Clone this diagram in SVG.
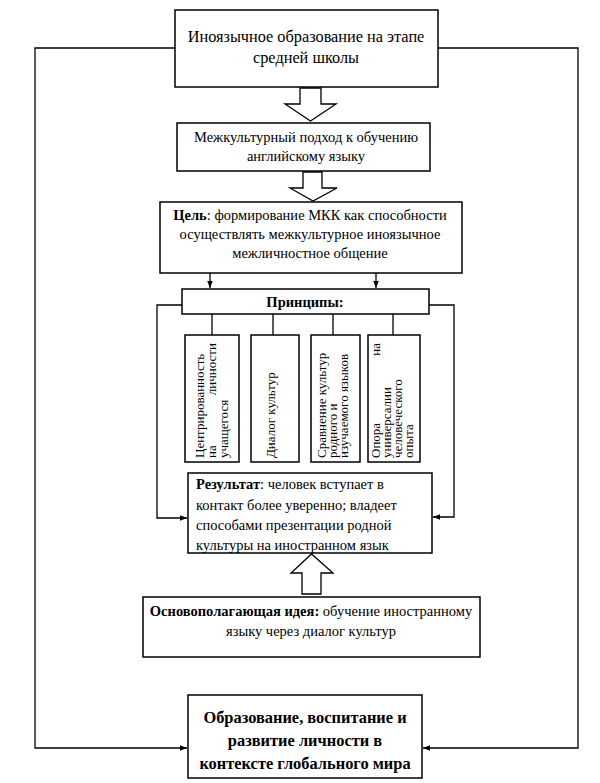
<svg xmlns="http://www.w3.org/2000/svg" width="600" height="783" viewBox="0 0 600 783" font-family="'Liberation Serif', 'Times New Roman', 'DejaVu Serif', serif">
<style>
.box{fill:#fff;stroke:#000;stroke-width:1.5}
.ln{fill:none;stroke:#000;stroke-width:1.3}
.ha{fill:#fff;stroke:#000;stroke-width:1.3}
text{font-family:'Liberation Serif','Times New Roman','DejaVu Serif',serif;fill:#000}
.t{font-size:14.5px}
.c{text-anchor:middle}
.b{font-weight:bold}
.v{font-size:13px}
</style>
<defs>
<marker id="ar" viewBox="0 0 10 10" refX="10" refY="5" markerWidth="7" markerHeight="7" orient="auto" markerUnits="userSpaceOnUse">
<path d="M0,1 L10,5 L0,9 Z" fill="#000"/>
</marker>
</defs>
<rect width="600" height="783" fill="#fff"/>
<g id="connectors">
<polyline class="ln" points="175,48 35,48 35,748 187,748" marker-end="url(#ar)"/>
<polyline class="ln" points="438,48 578,48 578,748 423,748" marker-end="url(#ar)"/>
<line class="ln" x1="210" y1="273" x2="210" y2="288" marker-end="url(#ar)"/>
<line class="ln" x1="376" y1="273" x2="376" y2="288" marker-end="url(#ar)"/>
<polyline class="ln" points="182,305 157,305 157,518 187,518" marker-end="url(#ar)"/>
<polyline class="ln" points="429,305 454,305 454,517 433,517" marker-end="url(#ar)"/>
<line class="ln" x1="212" y1="314" x2="212" y2="335"/>
<line class="ln" x1="273" y1="314" x2="273" y2="335"/>
<line class="ln" x1="333" y1="314" x2="333" y2="335"/>
<line class="ln" x1="393" y1="314" x2="393" y2="335"/>
<polygon class="ha" points="300,88 321,88 321,104 336,104 310.5,121 285,104 300,104"/>
<polygon class="ha" points="303,172 322,172 322,188 337,188 313,201 290,188 303,188"/>
<polygon class="ha" points="302,594 321,594 321,573 333,573 311.5,554 291,573 302,573"/>
</g>
<g id="n1">
<rect class="box" x="175" y="10" width="263" height="77"/>
<text class="t c" x="306" y="42" style="font-size:16.3px">Иноязычное образование на этапе</text>
<text class="t c" x="306" y="63" style="font-size:16.3px">средней школы</text>
</g>
<g id="n2">
<rect class="box" x="177" y="123" width="253" height="48"/>
<text class="t c" x="306" y="142">Межкультурный подход к обучению</text>
<text class="t c" x="306" y="161">английскому языку</text>
</g>
<g id="n3">
<rect class="box" x="160" y="202" width="302" height="71"/>
<text class="t c" x="310" y="220"><tspan class="b">Цель</tspan>: формирование МКК как способности</text>
<text class="t c" x="310" y="239">осуществлять межкультурное иноязычное</text>
<text class="t c" x="310" y="258">межличностное общение</text>
</g>
<g id="n4">
<rect class="box" x="182" y="289" width="247" height="25"/>
<text class="t c b" x="305" y="307">Принципы:</text>
</g>
<g id="p1">
<rect class="box" x="185" y="335" width="54" height="127"/>
<text class="v" transform="translate(204,458) rotate(-90)">Центрированность</text>
<text class="v" transform="translate(216,458) rotate(-90)">на</text>
<text class="v" transform="translate(216,343) rotate(-90)" text-anchor="end">личности</text>
<text class="v" transform="translate(228,458) rotate(-90)">учащегося</text>
</g>
<g id="p2">
<rect class="box" x="251" y="335" width="48" height="127"/>
<text class="v" transform="translate(275,458) rotate(-90)">Диалог культур</text>
</g>
<g id="p3">
<rect class="box" x="311" y="335" width="49" height="127"/>
<text class="v" transform="translate(326,458) rotate(-90)">Сравнение культур</text>
<text class="v" transform="translate(337,458) rotate(-90)">родного и</text>
<text class="v" transform="translate(348,458) rotate(-90)">изучаемого языков</text>
</g>
<g id="p4">
<rect class="box" x="368" y="335" width="52" height="127"/>
<text class="v" transform="translate(380,458) rotate(-90)">Опора</text>
<text class="v" transform="translate(380,343) rotate(-90)" text-anchor="end">на</text>
<text class="v" transform="translate(391,458) rotate(-90)">универсалии</text>
<text class="v" transform="translate(402,458) rotate(-90)">человеческого</text>
<text class="v" transform="translate(413,458) rotate(-90)">опыта</text>
</g>
<g id="n5">
<rect class="box" x="188" y="473" width="244" height="80"/>
<text class="t" x="196" y="489"><tspan class="b">Результат</tspan>: человек вступает в</text>
<text class="t" x="196" y="510">контакт более уверенно; владеет</text>
<text class="t" x="196" y="530">способами презентации родной</text>
<text class="t" x="196" y="550">культуры на иностранном язык</text>
</g>
<g id="n6">
<rect class="box" x="143" y="597" width="337" height="60"/>
<text class="t c" x="311" y="616"><tspan class="b">Основополагающая идея:</tspan> обучение иностранному</text>
<text class="t c" x="311" y="636">языку через диалог культур</text>
</g>
<g id="n7">
<rect class="box" x="188" y="695" width="234" height="83"/>
<text class="t c b" x="305" y="723" style="font-size:16.4px">Образование, воспитание и</text>
<text class="t c b" x="305" y="746" style="font-size:16.4px">развитие личности в</text>
<text class="t c b" x="305" y="769" style="font-size:16.4px">контексте глобального мира</text>
</g>
</svg>
